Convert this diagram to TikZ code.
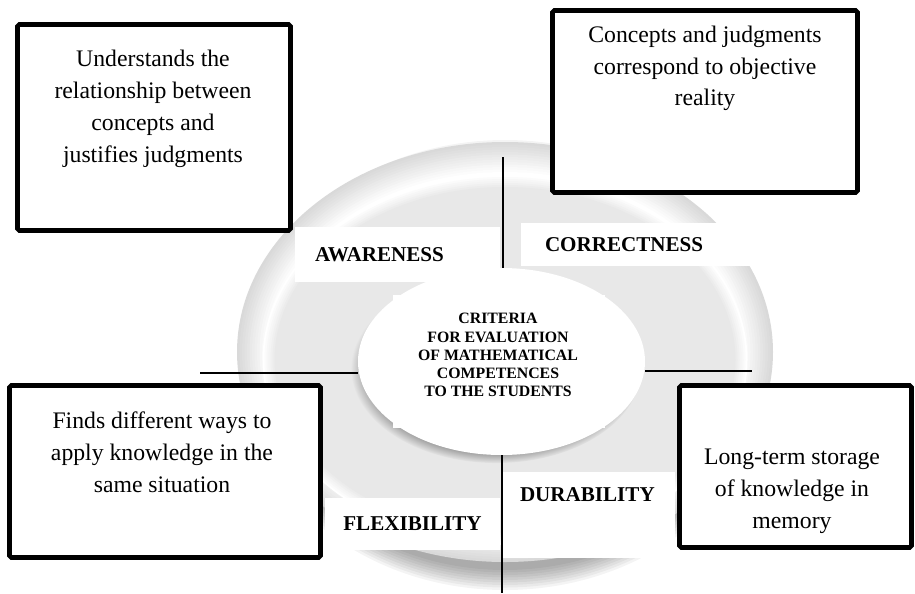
\documentclass[tikz,border=0pt]{standalone}
\usepackage{fontspec}
\setmainfont{Liberation Serif}
\usetikzlibrary{positioning,shapes.geometric,shadows}

\begin{document}
\begin{tikzpicture}[
		descbox/.style={draw, line width=2.6pt, rounded corners=1pt, fill=white, inner sep=0pt},
		desctext/.style={align=center, inner sep=0pt, font=\fontsize{13.5}{18.1}\selectfont},
		lblbox/.style={fill=white, inner sep=0pt},
		lbl/.style={inner sep=0pt, font=\fontsize{12}{14}\selectfont\bfseries},
		link/.style={line width=0.9pt}
	]
	\useasboundingbox (0,0) rectangle (18.3,-11.86);

	% Plate shadow
	\foreach \i in {0,...,8}
		\fill[black, opacity=0.045] (10.1,-7.3) ellipse ({4.9+0.05*\i} and {4.1+0.05*\i});

	% Plate rim, dark edge fading inwards
	\foreach \i [evaluate=\i as \g using 30-2.5*\i] in {0,...,12}
		\fill[gray!\g] (10.1,-7.04) ellipse ({5.36-0.05*\i} and {4.2-0.05*\i});

	% Plate well
	\foreach \i [evaluate=\i as \g using 3*\i] in {0,...,6}
		\fill[gray!\g] (10.1,-7.2) ellipse ({4.85-0.04*\i} and {3.7-0.04*\i});

	% Label backgrounds
	\node[lblbox, minimum width=4.1cm, minimum height=1.1cm] (awbox) at (7.95,-5.09) {};
	\node[lblbox, minimum width=4.62cm, minimum height=0.86cm] (cobox) at (12.73,-4.89) {};
	\node[lblbox, minimum width=3.5cm, minimum height=1.04cm] (flbox) at (8.25,-10.48) {};
	\node[lblbox, minimum width=3.44cm, minimum height=1.72cm] (dubox) at (11.78,-10.3) {};

	% Centre
	\node[ellipse, fill=white, minimum width=5.74cm, minimum height=3.74cm, inner sep=0pt,
		circular drop shadow={shadow xshift=-3pt, shadow yshift=-4pt, shadow scale=1.01}] (crit) at (10.03,-7.23) {};
	\node[lblbox, minimum width=4.24cm, minimum height=2.66cm] (critbox) at (9.98,-7.23) {};
	\node[align=center, inner sep=0pt, font=\fontsize{9}{10.3}\selectfont\bfseries] (crittext) at (9.96,-7.1)
		{CRITERIA\\FOR EVALUATION\\OF MATHEMATICAL\\COMPETENCES\\TO THE STUDENTS};

	% Criteria labels
	\node[lbl, right=0.4cm of awbox.west] (awareness) {AWARENESS};
	\node[lbl, right=0.48cm of cobox.west] (correctness) {CORRECTNESS};
	\node[lbl] (flexibility) at (flbox) {FLEXIBILITY};
	\node[lbl, anchor=north west] (durability) at ([xshift=0.34cm, yshift=-0.32cm]dubox.north west) {DURABILITY};

	% Description boxes
	\node[descbox, minimum width=5.46cm, minimum height=4.12cm] (awdesc) at (3.08,-2.55) {};
	\node[descbox, minimum width=6.1cm, minimum height=3.64cm] (codesc) at (14.1,-2.03) {};
	\node[descbox, minimum width=6.22cm, minimum height=3.44cm] (fldesc) at (3.3,-9.43) {};
	\node[descbox, minimum width=4.64cm, minimum height=3.24cm] (dudesc) at (15.91,-9.33) {};

	\node[desctext] at (3.06,-2.18) {Understands the\\relationship between\\concepts and\\justifies judgments};
	\node[desctext] at (14.1,-1.37) {Concepts and judgments\\correspond to objective\\reality};
	\node[desctext] at (3.24,-9.05) {Finds different ways to\\apply knowledge in the\\same situation};
	\node[desctext] at (15.84,-9.82) {Long-term storage\\of knowledge in\\memory};

	% Spokes
	\coordinate (topend) at (10.06,-3.14);
	\coordinate (botend) at (10.04,-11.86);
	\coordinate (leftend) at (4.0,-7.46);
	\coordinate (rightend) at (15.04,-7.42);
	\draw[link] (topend) -- (topend |- crit.north);
	\draw[link] (botend |- crit.south) -- (botend);
	\draw[link] (leftend) -- (leftend -| crit.west);
	\draw[link] (rightend -| crit.east) -- (rightend);
\end{tikzpicture}
\end{document}
